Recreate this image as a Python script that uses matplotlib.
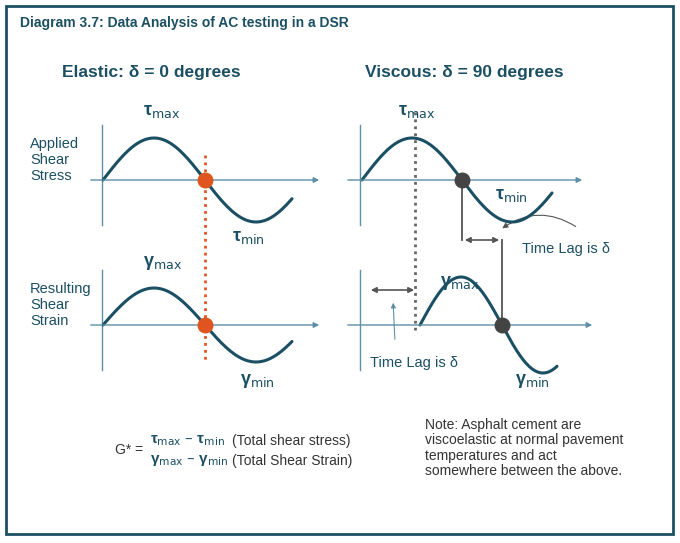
import numpy as np
import matplotlib as mpl; mpl.use("Agg")
import matplotlib.pyplot as plt
from matplotlib.patches import FancyArrowPatch, Rectangle

INK = "#1b4f63"
AXC = "#5e8fa6"
ORANGE = "#e0551f"
GREY = "#555555"
plt.rcParams["font.family"] = ["Liberation Sans", "DejaVu Sans"]

# wave definitions (pixel space): start x, end x, baseline y, amplitude
wave_start = [103, 103, 362, 420]
wave_end = [292, 292, 552, 557]
wave_base = [180, 325, 180, 325]
wave_amp = [42, 37, 42, 48]
dot_x = [205, 205, 462, 502]
dot_col = [ORANGE, ORANGE, "#444444", "#444444"]

fig = plt.figure(figsize=(6.8, 5.43), dpi=100)
ax = fig.add_axes([0, 0, 1, 1])
ax.set_xlim(0, 680); ax.set_ylim(543, 0); ax.axis("off")
ax.add_patch(Rectangle((6, 6), 667, 528, fill=False, ec=INK, lw=2))

ax.text(20, 23, "Diagram 3.7: Data Analysis of AC testing in a DSR", fontsize=10,
        fontweight="bold", color=INK, va="center")
ax.text(62, 73, "Elastic: δ = 0 degrees", fontsize=12.5, fontweight="bold", color=INK, va="center")
ax.text(365, 73, "Viscous: δ = 90 degrees", fontsize=12.5, fontweight="bold", color=INK, va="center")

# axes
for (x0, x1, y, vx) in [(88, 322, 180, 102), (88, 322, 325, 102), (345, 585, 180, 360), (345, 595, 325, 360)]:
    ax.annotate("", xy=(x1, y), xytext=(x0, y),
                arrowprops=dict(arrowstyle="-|>", color=AXC, lw=1.0, mutation_scale=8))
    ax.plot([vx, vx], [y - 55, y + 45], color=AXC, lw=1.0)

# waves
for i in range(4):
    x = np.linspace(wave_start[i], wave_end[i], 200)
    th = (x - wave_start[i]) / (dot_x[i] - wave_start[i]) * np.pi
    y = wave_base[i] - wave_amp[i] * np.sin(th)
    ax.plot(x, y, color=INK, lw=2.2, solid_capstyle="round")
    ax.scatter([dot_x[i]], [wave_base[i]], s=110, color=dot_col[i], zorder=5)

ax.plot([205, 205], [155, 360], color=ORANGE, lw=2, ls=(0, (1, 1.5)))
ax.plot([415, 415], [112, 330], color="#666666", lw=2, ls=(0, (1, 1.5)))

# lag markers
ax.plot([462, 462], [180, 240], color=GREY, lw=1.3)
ax.plot([502, 502], [240, 325], color=GREY, lw=1.3)
ax.annotate("", xy=(462, 240), xytext=(502, 240),
            arrowprops=dict(arrowstyle="<|-|>", color=GREY, lw=1.2, mutation_scale=8))
ax.annotate("", xy=(368, 290), xytext=(417, 290),
            arrowprops=dict(arrowstyle="<|-|>", color=GREY, lw=1.2, mutation_scale=8))
ax.add_patch(FancyArrowPatch((578, 228), (500, 230), connectionstyle="arc3,rad=0.35",
                             arrowstyle="-|>", mutation_scale=8, color=GREY, lw=0.8))
ax.annotate("", xy=(393, 300), xytext=(395, 342),
            arrowprops=dict(arrowstyle="-|>", color=AXC, lw=0.8, mutation_scale=7))
ax.text(522, 249, "Time Lag is δ", fontsize=10.5, color=INK, va="center")
ax.text(370, 363, "Time Lag is δ", fontsize=10.5, color=INK, va="center")

def sym(x, y, g, sub):
    ax.text(x, y, g + r"$_{\mathrm{%s}}$" % sub, fontsize=13, fontweight="bold", color=INK, va="center")

sym(143, 112, "τ", "max"); sym(232, 237, "τ", "min")
sym(398, 112, "τ", "max"); sym(495, 195, "τ", "min")
sym(143, 263, "γ", "max"); sym(240, 381, "γ", "min")
sym(440, 283, "γ", "max"); sym(515, 381, "γ", "min")

ax.text(30, 160, "Applied\nShear\nStress", fontsize=10.5, color=INK, va="center", linespacing=1.15)
ax.text(30, 305, "Resulting\nShear\nStrain", fontsize=10.5, color=INK, va="center", linespacing=1.15)

ax.text(115, 450, "G* =", fontsize=10, color="#333333", va="center")
ax.text(150, 441, "τ$_{\\mathrm{max}}$ – τ$_{\\mathrm{min}}$", fontsize=11, fontweight="bold", color=INK, va="center")
ax.text(150, 460, "γ$_{\\mathrm{max}}$ – γ$_{\\mathrm{min}}$", fontsize=11, fontweight="bold", color=INK, va="center")
ax.text(232, 441, "(Total shear stress)", fontsize=10, color="#333333", va="center")
ax.text(232, 461, "(Total Shear Strain)", fontsize=10, color="#333333", va="center")

ax.text(425, 448, "Note: Asphalt cement are\nviscoelastic at normal pavement\ntemperatures and act\nsomewhere between the above.",
        fontsize=10, color="#333333", va="center", linespacing=1.15)

fig.savefig("out.png", dpi=100, facecolor="white")
